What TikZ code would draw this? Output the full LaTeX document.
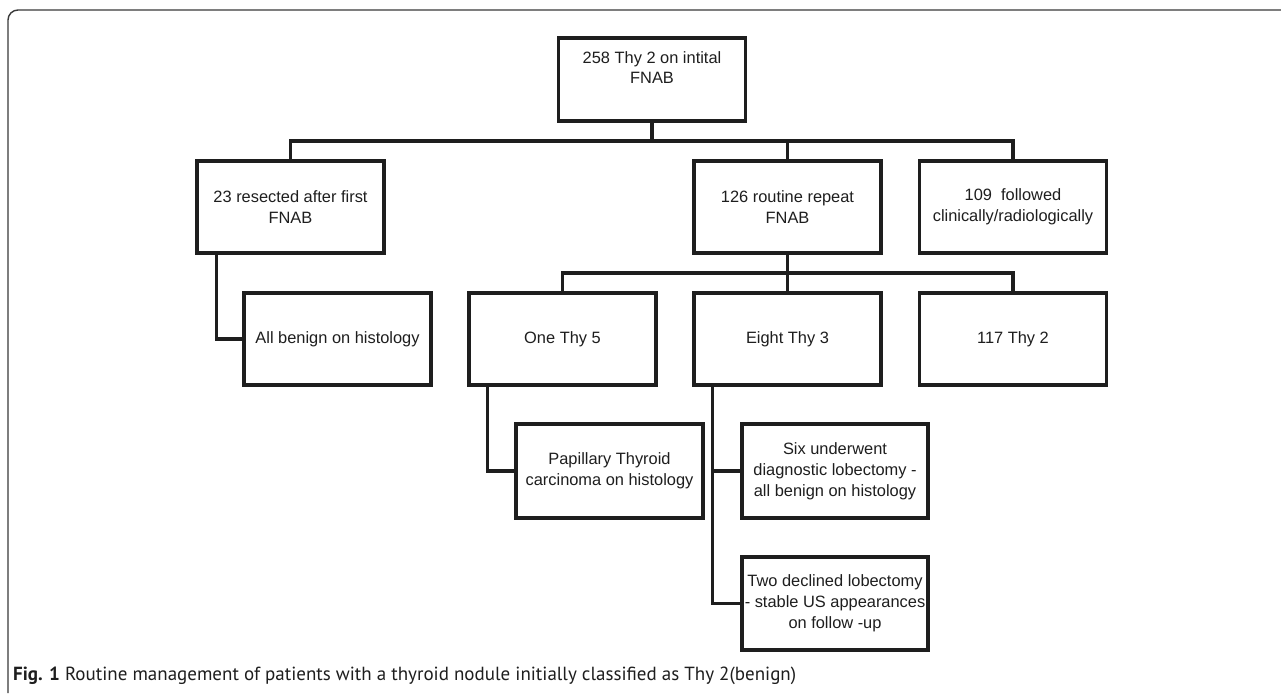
\documentclass[tikz,border=0pt]{standalone}
\usepackage{fontspec}
\setmainfont{Liberation Sans}
\newfontfamily\capfont{PT Sans}
\definecolor{ink}{HTML}{1E1E1E}
\definecolor{frame}{HTML}{3A3A3A}
\begin{document}
\begin{tikzpicture}[x=1pt,y=-1pt,
  box/.style={draw=ink, line width=3.4pt, rectangle, inner sep=0pt, align=center,
    text=ink, font=\fontsize{16.4}{20.8}\selectfont, minimum width=187pt, minimum height=92pt},
  conn/.style={draw=ink, line width=3.4pt}]
\useasboundingbox (0,0) rectangle (1281,693);
\fill[white] (0,0) rectangle (1281,693);
\draw[frame, line width=1.4pt, rounded corners=10pt] (1281,10) -- (8,10) -- (8,693);
% nodes
\node[box, minimum height=83pt] (top) at (652,79.5) {258 Thy 2 on intital\\FNAB\\[3pt]};
\node[box] (res) at (290.5,207) {23 resected after first\\FNAB};
\node[box] (rep) at (787.5,207) {126 routine repeat\\FNAB};
\node[box] (fol) at (1013,207) {109\ \ followed\\clinically/radiologically};
\node[box] (allb) at (337.5,339) {All benign on histology};
\node[box] (one) at (562.5,339) {One Thy 5};
\node[box] (eight) at (787.5,339) {Eight Thy 3};
\node[box] (thy2) at (1013,339) {117 Thy 2};
\node[box, minimum height=94pt] (pap) at (609.5,471) {Papillary Thyroid\\carcinoma on histology};
\node[box, minimum width=186pt, minimum height=94pt] (six) at (835,471) {Six underwent\\diagnostic lobectomy -\\all benign on histology};
\node[box, minimum width=186pt, minimum height=93pt] (two) at (835,603.5) {Two declined lobectomy\\- stable US appearances\\on follow -up};
% connectors
\coordinate (b1) at (652,141);
\coordinate (b2) at (787.5,273);
\draw[conn] (top.south) -- (b1);
\draw[conn] (res.north) -- (res.north |- b1) -- (fol.north |- b1) -- (fol.north);
\draw[conn] (rep.north) -- (rep.north |- b1);
\draw[conn] (rep.south) -- (b2);
\draw[conn] (one.north) -- (one.north |- b2) -- (thy2.north |- b2) -- (thy2.north);
\draw[conn] (eight.north) -- (eight.north |- b2);
\draw[conn] ([xshift=21pt]res.south west) |- (allb.west);
\draw[conn] ([xshift=20pt]one.south west) |- (pap.west);
\draw[conn] ([xshift=20pt]eight.south west) |- (two.west);
\draw[conn] (six.west) -- ([xshift=20pt]eight.south west |- six.west);
% caption
\node[anchor=base west, inner sep=0pt, text=ink, font=\capfont\fontsize{19}{22}\selectfont] (cap) at (13,680)
  {\textbf{Fig. 1} Routine management of patients with a thyroid nodule initially classified as Thy 2(benign)};
\end{tikzpicture}
\end{document}
